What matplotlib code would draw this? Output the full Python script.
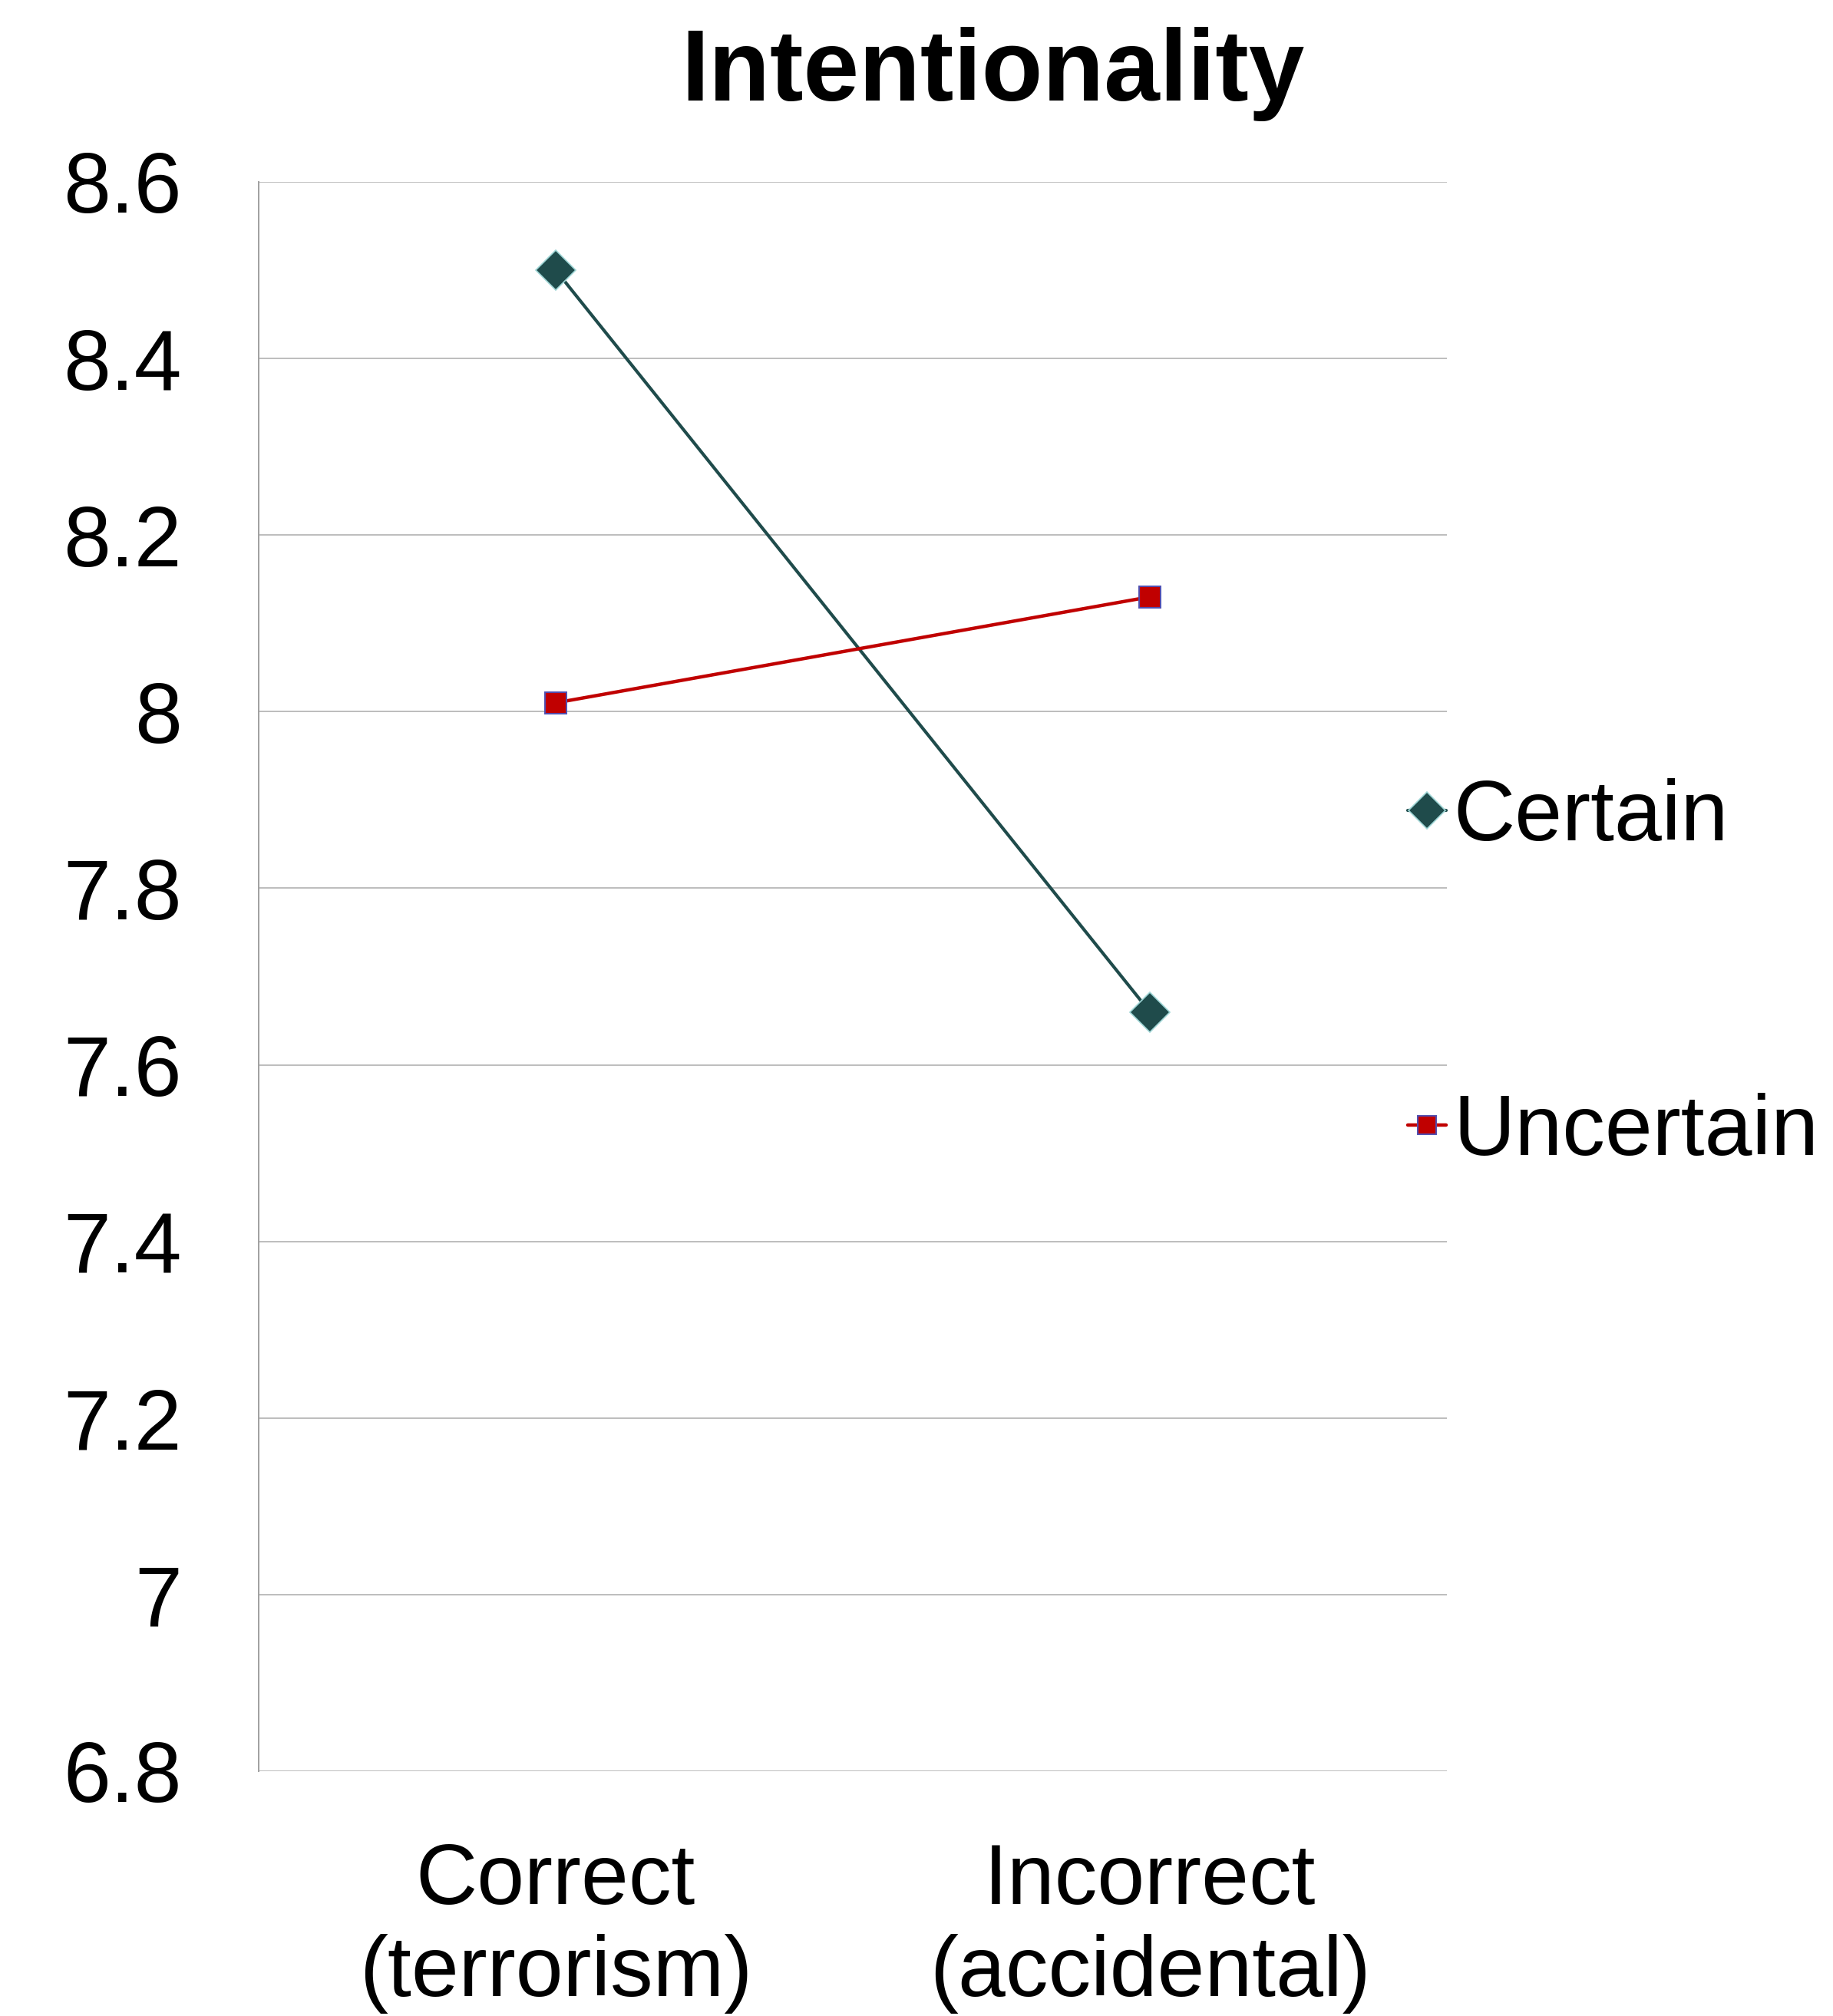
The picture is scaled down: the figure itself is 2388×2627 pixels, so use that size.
import matplotlib
matplotlib.use("Agg")
import matplotlib.pyplot as plt
from matplotlib.lines import Line2D

plt.rcParams['font.family'] = ['Liberation Sans', 'DejaVu Sans']

categories = ["Correct\n(terrorism)", "Incorrect\n(accidental)"]
series_names = ["Certain", "Uncertain"]
certain = [8.50, 7.66]
uncertain = [8.01, 8.13]
y_ticks = [6.8, 7.0, 7.2, 7.4, 7.6, 7.8, 8.0, 8.2, 8.4, 8.6]
y_tick_labels = ["6.8", "7", "7.2", "7.4", "7.6", "7.8", "8", "8.2", "8.4", "8.6"]

W, H = 2388, 2627
fig = plt.figure(figsize=(W / 100, H / 100), dpi=100)
ax = fig.add_axes([337 / W, 1 - 2308 / H, (1885 - 337) / W, (2308 - 237) / H])

x = list(range(len(categories)))

certain_style = dict(color="#1F4B4B", lw=3.0, marker="D", markersize=26,
                     markerfacecolor="#1F4B4B", markeredgecolor="#9FD6D6",
                     markeredgewidth=1.2, solid_capstyle="round")
uncertain_style = dict(color="#C00000", lw=3.2, marker="s", markersize=20,
                       markerfacecolor="#C00000", markeredgecolor="#4F4FB0",
                       markeredgewidth=1.4, solid_capstyle="round")

ax.plot(x, certain, zorder=3, **certain_style)
ax.plot(x, uncertain, zorder=3, **uncertain_style)

ax.set_xlim(-0.5, 1.5)
ax.set_ylim(6.8, 8.6)
ax.set_yticks(y_ticks)
ax.set_yticklabels(y_tick_labels, fontsize=80)
ax.set_xticks(x)
ax.set_xticklabels(categories, fontsize=80, linespacing=1.2)
ax.tick_params(axis="both", length=0)
ax.tick_params(axis="y", pad=72)
ax.tick_params(axis="x", pad=66)

ax.grid(axis="y", color="#B8B8B8", lw=1.3, zorder=0)
for s in ["top", "right", "bottom"]:
    ax.spines[s].set_visible(False)
ax.spines["left"].set_color("#A0A0A0")
ax.spines["left"].set_linewidth(1.4)

fig.text(1293 / W, 1 - 131 / H, "Intentionality", fontsize=94,
         fontweight="bold", ha="center", va="baseline")

handles = [
    Line2D([0], [0], **{**certain_style, "markersize": 24}),
    Line2D([0], [0], **{**uncertain_style, "markersize": 17}),
]
fig.legend(handles, series_names, loc="center left",
           bbox_to_anchor=(1834 / W, 1 - 1271 / H), frameon=False,
           fontsize=80, handlelength=0.45, handletextpad=0.08,
           labelspacing=2.75, borderpad=0, borderaxespad=0)

fig.savefig("out.png", dpi=100, facecolor="white")
